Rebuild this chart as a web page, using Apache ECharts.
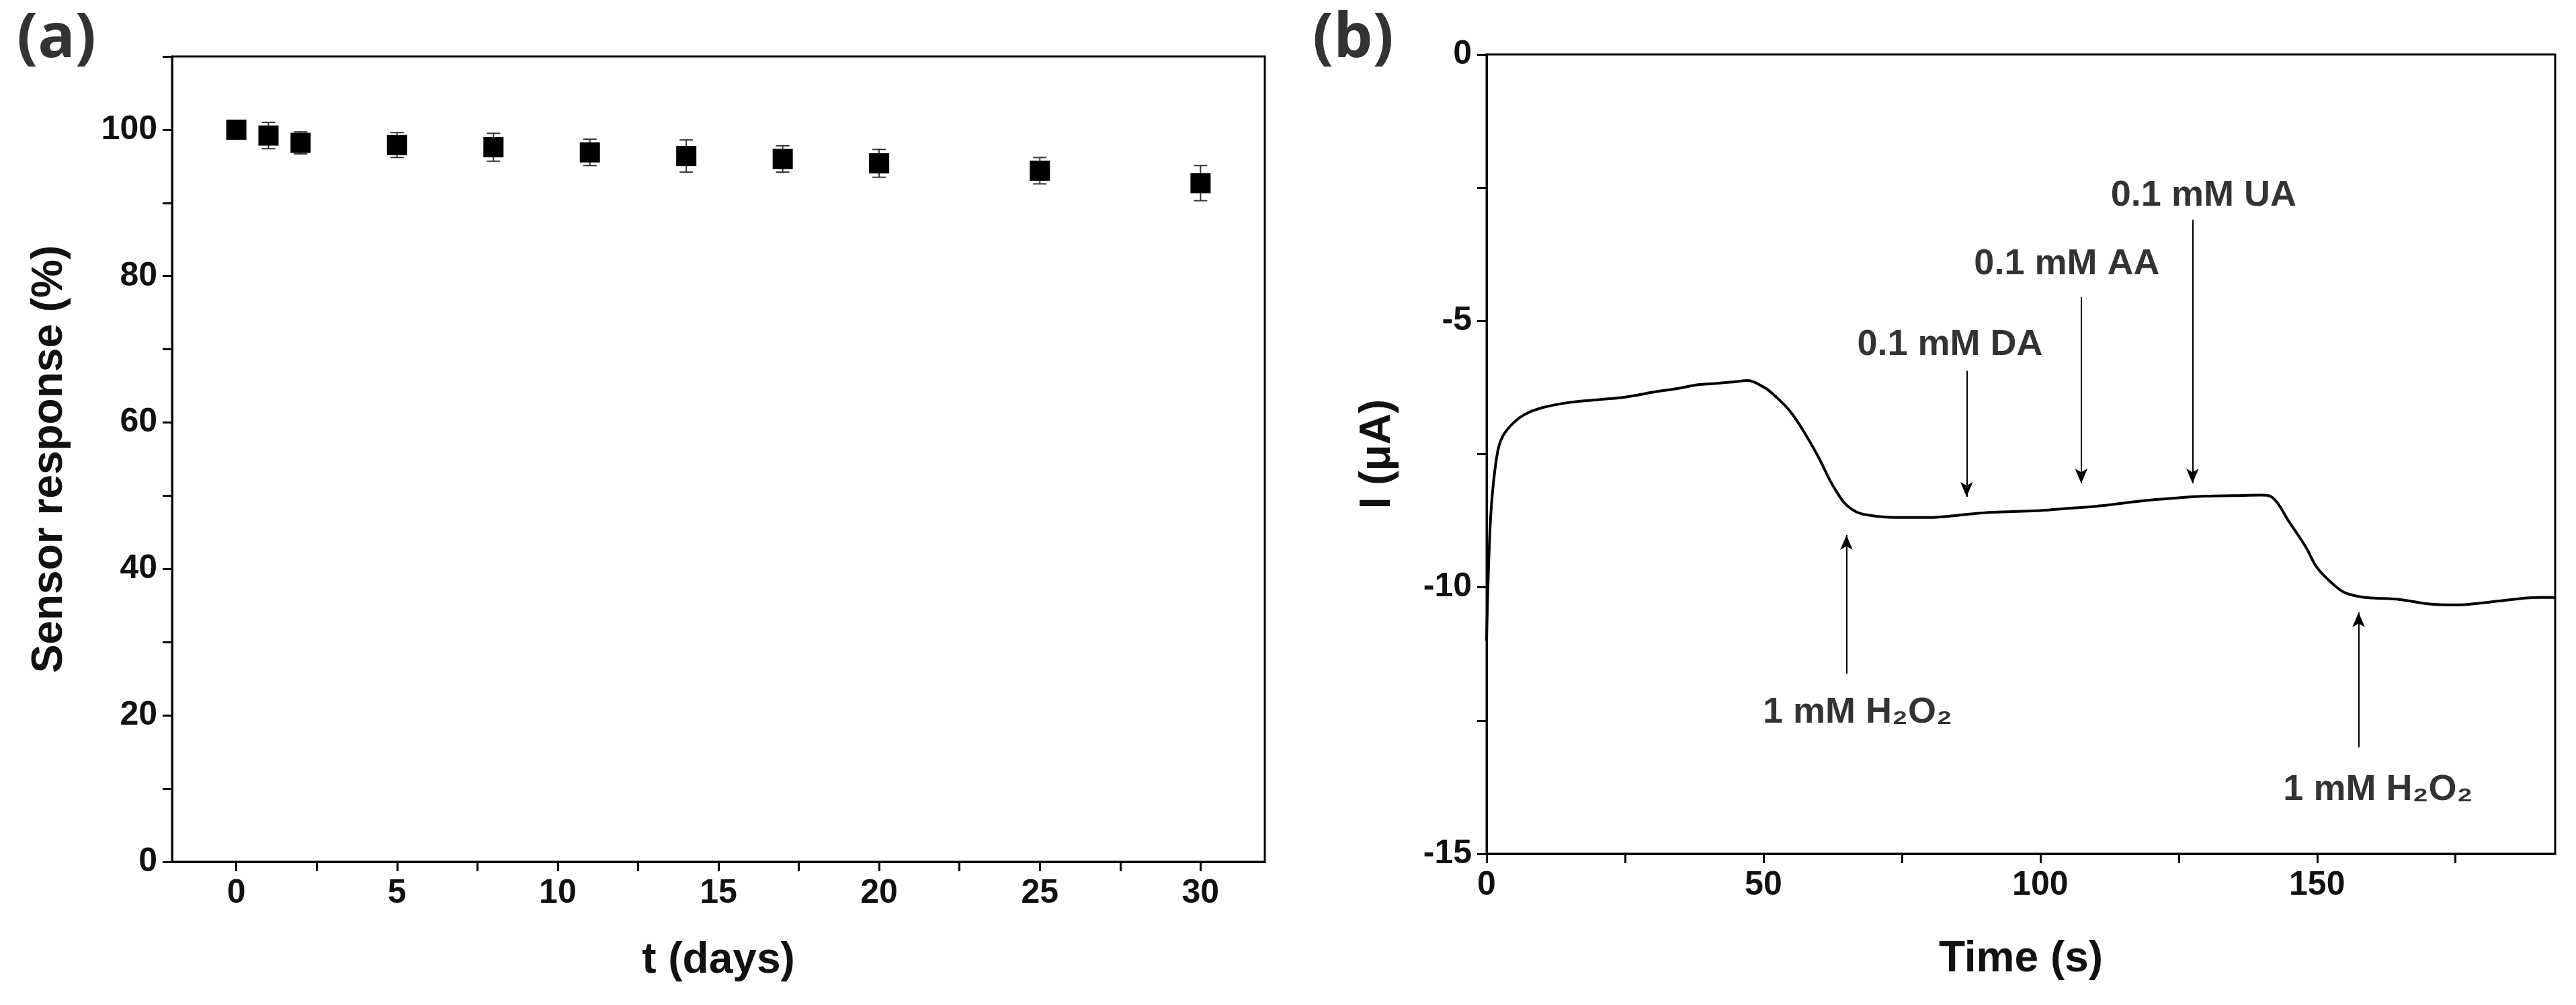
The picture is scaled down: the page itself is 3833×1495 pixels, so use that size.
<!DOCTYPE html>
<html><head><meta charset="utf-8">
<script src="https://cdn.jsdelivr.net/npm/echarts@6/dist/echarts.min.js"></script>
<style>html,body{margin:0;padding:0;background:#fff}#c{width:3833px;height:1495px}</style>
</head><body><div id="c"></div>
<script>
const days = [0,1,2,5,8,11,14,17,20,25,30];
const response = [100,99.2,98.2,97.9,97.6,96.9,96.4,96.0,95.4,94.4,92.7];
const responseErr = [0,1.8,1.5,1.7,1.9,1.8,2.2,1.8,1.9,1.8,2.4];
const timeS = [0,0.5,1,2,3,5,7,10,15,20,25,30,35,38,42,45,47,50,52,55,58,60,63,66,70,75,80,85,90,95,100,105,110,115,120,125,130,135,140,142,145,148,150,153,155,158,160,165,170,175,180,185,190,193];
const currentUA = [-11.0,-9.2,-8.3,-7.45,-7.15,-6.9,-6.75,-6.63,-6.53,-6.48,-6.43,-6.34,-6.26,-6.2,-6.17,-6.14,-6.12,-6.24,-6.4,-6.72,-7.2,-7.57,-8.17,-8.54,-8.66,-8.69,-8.69,-8.65,-8.6,-8.58,-8.56,-8.52,-8.48,-8.42,-8.36,-8.32,-8.29,-8.28,-8.27,-8.32,-8.78,-9.25,-9.63,-9.95,-10.1,-10.18,-10.2,-10.23,-10.31,-10.33,-10.29,-10.23,-10.19,-10.19];
const annotLabels = ['1 mM H₂O₂','0.1 mM DA','0.1 mM AA','0.1 mM UA','1 mM H₂O₂'];
const annotLabelPos = [[67,-12.35],[83.7,-5.45],[104.8,-3.94],[129.5,-2.65],[161,-13.8]];
const arrowFrom = [[65,-11.62],[86.7,-5.94],[107.4,-4.55],[127.5,-3.1],[157.5,-13.0]];
const arrowTo = [[65,-9.02],[86.7,-8.3],[107.4,-8.05],[127.5,-8.05],[157.5,-10.47]];

const F = "'Liberation Sans Narrow','Liberation Sans',Arial,sans-serif";
const ax = {onZero:false,lineStyle:{color:'#000',width:3}};
const tick = {show:true,inside:false,length:14,lineStyle:{color:'#000',width:3}};
const lab = {color:'#111',fontFamily:F,fontWeight:'bold',fontSize:50,margin:22};
const nameStyle = {color:'#111',fontFamily:F,fontWeight:'bold',fontSize:64};

const chart = echarts.init(document.getElementById('c'));
chart.setOption({
  animation:false,
  backgroundColor:'#fff',
  title:[
    {text:'(a)',left:20,top:8,textStyle:{fontFamily:"'Open Sans',sans-serif",fontWeight:'bold',fontSize:92,color:'#333'}},
    {text:'(b)',left:1948,top:8,textStyle:{fontFamily:"'Open Sans',sans-serif",fontWeight:'bold',fontSize:92,color:'#333'}}
  ],
  grid:[
    {left:256,width:1626,top:84,height:1198,show:true,borderColor:'#000',borderWidth:3},
    {left:2212,right:31,top:81,height:1189,show:true,borderColor:'#000',borderWidth:3}
  ],
  xAxis:[
    {type:'value',gridIndex:0,min:-2,max:32,splitLine:{show:false},axisLine:ax,
     axisTick:Object.assign({},tick,{customValues:[0,2.5,5,7.5,10,12.5,15,17.5,20,22.5,25,27.5,30]}),
     axisLabel:Object.assign({},lab,{customValues:[0,5,10,15,20,25,30]}),
     name:'t (days)',nameLocation:'middle',nameGap:115,nameTextStyle:nameStyle},
    {type:'value',gridIndex:1,min:0,max:193,splitLine:{show:false},axisLine:ax,
     axisTick:Object.assign({},tick,{customValues:[0,25,50,75,100,125,150,175]}),
     axisLabel:Object.assign({},lab,{customValues:[0,50,100,150]}),
     name:'Time (s)',nameLocation:'middle',nameGap:125,nameTextStyle:nameStyle}
  ],
  yAxis:[
    {type:'value',gridIndex:0,min:0,max:110,splitLine:{show:false},axisLine:ax,
     axisTick:Object.assign({},tick,{customValues:[0,10,20,30,40,50,60,70,80,90,100,110]}),
     axisLabel:Object.assign({},lab,{customValues:[0,20,40,60,80,100]}),
     name:'Sensor response (%)',nameLocation:'middle',nameGap:150,nameTextStyle:nameStyle},
    {type:'value',gridIndex:1,min:-15,max:0,splitLine:{show:false},axisLine:ax,
     axisTick:Object.assign({},tick,{customValues:[-15,-12.5,-10,-7.5,-5,-2.5,0]}),
     axisLabel:Object.assign({},lab,{customValues:[-15,-10,-5,0]}),
     name:'I (μA)',nameLocation:'middle',nameGap:130,nameTextStyle:nameStyle}
  ],
  series:[
    {type:'custom',xAxisIndex:0,yAxisIndex:0,data:days.map((d,i)=>[d,response[i]-responseErr[i],response[i]+responseErr[i]]),
     renderItem:function(params,api){
       const lo=api.coord([api.value(0),api.value(1)]), hi=api.coord([api.value(0),api.value(2)]);
       const w=10;
       return {type:'group',children:[
         {type:'line',shape:{x1:lo[0],y1:lo[1],x2:hi[0],y2:hi[1]},style:{stroke:'#333',lineWidth:2}},
         {type:'line',shape:{x1:lo[0]-w,y1:lo[1],x2:lo[0]+w,y2:lo[1]},style:{stroke:'#333',lineWidth:2}},
         {type:'line',shape:{x1:hi[0]-w,y1:hi[1],x2:hi[0]+w,y2:hi[1]},style:{stroke:'#333',lineWidth:2}}
       ]};
     },z:1},
    {type:'scatter',xAxisIndex:0,yAxisIndex:0,symbol:'rect',symbolSize:30,itemStyle:{color:'#000',opacity:1},
     data:days.map((d,i)=>[d,response[i]]),z:3},
    {type:'line',xAxisIndex:1,yAxisIndex:1,data:timeS.map((t,i)=>[t,currentUA[i]]),smooth:0.4,showSymbol:false,
     lineStyle:{color:'#000',width:4},
     markLine:{silent:true,symbol:['none','arrow'],symbolSize:[14,22],lineStyle:{color:'#000',width:2,type:'solid'},label:{show:false},
       data:arrowFrom.map((f,i)=>[{coord:f},{coord:arrowTo[i]}])}},
    {type:'scatter',xAxisIndex:1,yAxisIndex:1,symbolSize:0,
     data:annotLabels.map((l,i)=>({value:annotLabelPos[i],name:l})),
     label:{show:true,position:'inside',formatter:'{b}',color:'#000',textBorderWidth:0,fontFamily:F,fontWeight:'bold',fontSize:54}}
  ]
});
</script></body></html>
